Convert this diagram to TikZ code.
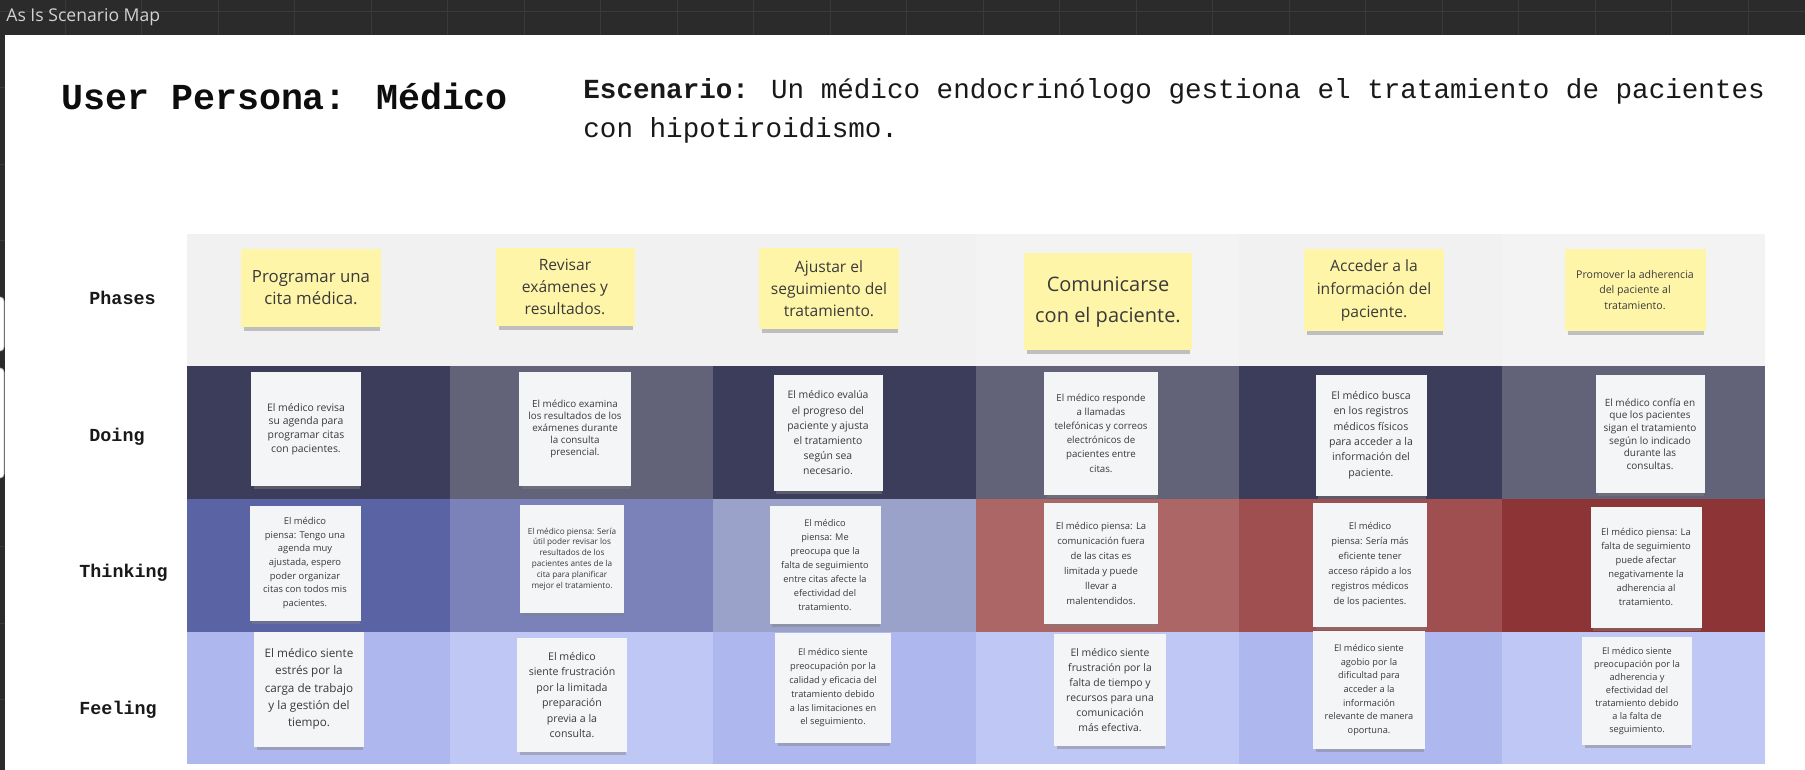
\documentclass[tikz,border=0pt]{standalone}
\usepackage{fontspec}
\setmainfont{Open Sans}
\newfontfamily\monofont{Liberation Mono}
\usetikzlibrary{shadows}

\definecolor{canvasDark}{HTML}{2B2B2B}
\definecolor{gridDark}{HTML}{3A3A3A}
\definecolor{barText}{HTML}{D2D2D2}
\definecolor{phA}{HTML}{F1F1F1}
\definecolor{phB}{HTML}{F3F3F3}
\definecolor{doA}{HTML}{3C3D5B}
\definecolor{doB}{HTML}{626279}
\definecolor{thA}{HTML}{5A64A5}
\definecolor{thB}{HTML}{7A82B9}
\definecolor{thC}{HTML}{9AA2CA}
\definecolor{thD}{HTML}{AC6666}
\definecolor{thE}{HTML}{A04F51}
\definecolor{thF}{HTML}{8D3436}
\definecolor{feA}{HTML}{AEB8EE}
\definecolor{feB}{HTML}{BFC7F4}
\definecolor{stickyYellow}{HTML}{FFF5A8}
\definecolor{cardWhite}{HTML}{F4F5F7}
\definecolor{noteText}{HTML}{3A3A3A}

\begin{document}
\begin{tikzpicture}[x=0.5pt, y=-0.5pt,
  note/.style={inner sep=1pt, align=center, text=noteText,
    drop shadow={shadow xshift=0.5pt, shadow yshift=-2.5pt, shadow scale=0.97, opacity=0.45}},
  sticky/.style={note, fill=stickyYellow},
  card/.style={note, fill=cardWhite},
  fs/.style 2 args={font=\fontsize{#1}{#2}\selectfont},
  sz/.style 2 args={minimum width=#1*0.5pt, minimum height=#2*0.5pt},
  rowlabel/.style={anchor=west, inner sep=0pt, text=black!90, font=\monofont\bfseries\fontsize{9.2}{11}\selectfont}]
\useasboundingbox (0,0) rectangle (1805,770);

% Miro canvas and its grid
\fill[canvasDark] (0,0) rectangle (1805,770);
\foreach \k in {0,...,23} {
    \draw[gridDark] ({65+76.5*\k},0) -- ({65+76.5*\k},770);
}
\foreach \k in {0,...,9} {
    \draw[gridDark] (0,{11+76.5*\k}) -- (1805,{11+76.5*\k});
}
\node[anchor=west, inner sep=0pt, text=barText, font=\fontsize{8.8}{10}\selectfont] (bar) at (6,17) {As Is Scenario Map};

% Sheet
\fill[white] (5,35) rectangle (1805,770);
\draw[gray!50, fill=white, rounded corners=2pt] (-6,297) rectangle (4,351);
\draw[gray!50, fill=white, rounded corners=2pt] (-6,368) rectangle (4,478);

% Title and scenario
\node[anchor=base west, inner sep=0pt, text=black!95, font=\monofont\bfseries\fontsize{18.3}{22}\selectfont] (title) at (61,110) {User Persona: Médico};
\node[anchor=north west, inner sep=0pt, align=left, text=black!90, font=\monofont\fontsize{13.8}{19.5}\selectfont] (scen) at (583,78)
    {\textbf{Escenario:} Un médico endocrinólogo gestiona el tratamiento de pacientes\\con hipotiroidismo.};

% Rows of the map
\foreach \c [count=\i from 0] in {phA,phA,phA,phB,phA,phB} {
    \fill[\c] ({187+263*\i},234) rectangle ++(263,132);
}
\foreach \c [count=\i from 0] in {doA,doB,doA,doB,doA,doB} {
    \fill[\c] ({187+263*\i},366) rectangle ++(263,133);
}
\foreach \c [count=\i from 0] in {thA,thB,thC,thD,thE,thF} {
    \fill[\c] ({187+263*\i},499) rectangle ++(263,133);
}
\foreach \c [count=\i from 0] in {feA,feB,feA,feB,feA,feB} {
    \fill[\c] ({187+263*\i},632) rectangle ++(263,132);
}

% Row labels
\node[rowlabel] (lphases) at (89,298) {Phases};
\node[rowlabel] (ldoing) at (89,437) {Doing};
\node[rowlabel] (lthinking) at (79,573) {Thinking};
\node[rowlabel] (lfeeling) at (79,710) {Feeling};

% Phases
\node[sticky, fs={8.4}{11}, sz={140}{78}] (p1) at (311,288) {Programar una\\cita médica.};
\node[sticky, fs={7.8}{11}, sz={139}{78}] (p2) at (565,287) {Revisar\\exámenes y\\resultados.};
\node[sticky, fs={7.8}{11}, sz={140}{81}] (p3) at (829,289) {Ajustar el\\seguimiento del\\tratamiento.};
\node[sticky, fs={10}{15.5}, sz={168}{97}] (p4) at (1108,302) {Comunicarse\\con el paciente.};
\node[sticky, fs={7.8}{11.5}, sz={140}{82}] (p5) at (1374,290) {Acceder a la\\información del\\paciente.};
\node[sticky, fs={5.3}{7.7}, sz={141}{82}] (p6) at (1635,290) {Promover la adherencia\\del paciente al\\tratamiento.};

% Doing
\node[card, fs={5.2}{6.9}, sz={110}{114}] (d1) at (306,429) {El médico revisa\\su agenda para\\programar citas\\con pacientes.};
\node[card, fs={4.9}{6}, sz={112}{114}] (d2) at (575,429) {El médico examina\\los resultados de los\\exámenes durante\\la consulta\\presencial.};
\node[card, fs={5.2}{7.6}, sz={109}{116}] (d3) at (828,433) {El médico evalúa\\el progreso del\\paciente y ajusta\\el tratamiento\\según sea\\necesario.};
\node[card, fs={4.85}{7.1}, sz={114}{123}] (d4) at (1101,433) {El médico responde\\a llamadas\\telefónicas y correos\\electrónicos de\\pacientes entre\\citas.};
\node[card, fs={5.3}{7.7}, sz={111}{121}] (d5) at (1371,435) {El médico busca\\en los registros\\médicos físicos\\para acceder a la\\información del\\paciente.};
\node[card, fs={5}{6.3}, sz={109}{118}] (d6) at (1650,434) {El médico confía en\\que los pacientes\\sigan el tratamiento\\según lo indicado\\durante las\\consultas.};

% Thinking
\node[card, fs={4.7}{6.8}, sz={111}{115}] (t1) at (305,563) {El médico\\piensa: Tengo una\\agenda muy\\ajustada, espero\\poder organizar\\citas con todos mis\\pacientes.};
\node[card, fs={4.1}{5.4}, sz={104}{108}] (t2) at (572,559) {El médico piensa: Sería\\útil poder revisar los\\resultados de los\\pacientes antes de la\\cita para planificar\\mejor el tratamiento.};
\node[card, fs={4.6}{7}, sz={111}{118}] (t3) at (825,565) {El médico\\piensa: Me\\preocupa que la\\falta de seguimiento\\entre citas afecte la\\efectividad del\\tratamiento.};
\node[card, fs={4.75}{7.5}, sz={114}{121}] (t4) at (1101,563) {El médico piensa: La\\comunicación fuera\\de las citas es\\limitada y puede\\llevar a\\malentendidos.};
\node[card, fs={4.7}{7.5}, sz={114}{124}] (t5) at (1370,565) {El médico\\piensa: Sería más\\eficiente tener\\acceso rápido a los\\registros médicos\\de los pacientes.};
\node[card, fs={4.7}{7}, sz={111}{121}] (t6) at (1646,567) {El médico piensa: La\\falta de seguimiento\\puede afectar\\negativamente la\\adherencia al\\tratamiento.};

% Feeling
\node[card, fs={5.85}{8.6}, sz={110}{115}] (f1) at (309,689) {El médico siente\\estrés por la\\carga de trabajo\\y la gestión del\\tiempo.};
\node[card, fs={5.3}{7.75}, sz={110}{114}] (f2) at (572,695) {El médico\\siente frustración\\por la limitada\\preparación\\previa a la\\consulta.};
\node[card, fs={4.6}{6.9}, sz={116}{110}] (f3) at (833,688) {El médico siente\\preocupación por la\\calidad y eficacia del\\tratamiento debido\\a las limitaciones en\\el seguimiento.};
\node[card, fs={5.2}{7.5}, sz={112}{112}] (f4) at (1110,690) {El médico siente\\frustración por la\\falta de tiempo y\\recursos para una\\comunicación\\más efectiva.};
\node[card, fs={4.6}{6.8}, sz={112}{118}] (f5) at (1369,690) {El médico siente\\agobio por la\\dificultad para\\acceder a la\\información\\relevante de manera\\oportuna.};
\node[card, fs={4.6}{6.5}, sz={110}{108}] (f6) at (1637,691) {El médico siente\\preocupación por la\\adherencia y\\efectividad del\\tratamiento debido\\a la falta de\\seguimiento.};

\end{tikzpicture}
\end{document}
